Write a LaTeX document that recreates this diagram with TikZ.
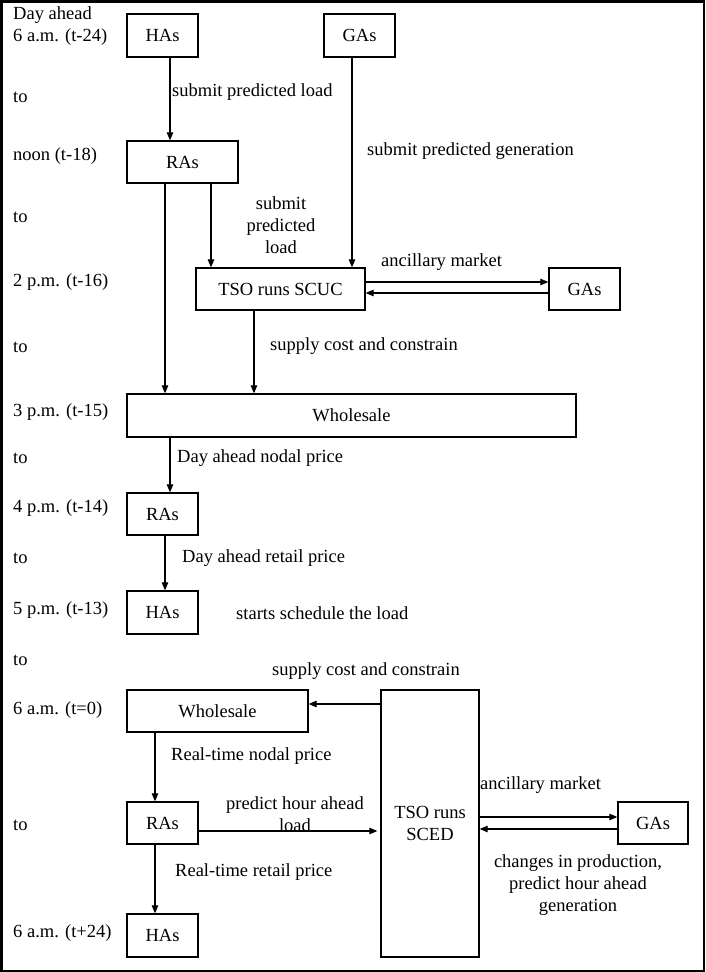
\documentclass[tikz,border=0pt]{standalone}
\usepackage{fontspec}
\setmainfont{Liberation Serif}
\usetikzlibrary{arrows.meta,calc}
\begin{document}
\begin{tikzpicture}[x=1pt,y=-1pt,
  box/.style={draw,line width=1.3pt,inner sep=0pt,align=center},
  lbl/.style={inner sep=0pt,anchor=west},
  clbl/.style={inner sep=0pt,align=center},
  arr/.style={line width=1.1pt,-{Triangle[length=8pt,width=6.5pt]}},
  every node/.style={font=\fontsize{18.5}{22}\selectfont}]
\useasboundingbox (0,0) rectangle (705,972);
\draw[line width=2.5pt] (1.25,1.25) rectangle (703.75,970.75);
% time labels
\node[lbl] (t1a) at (13,15) {Day ahead};
\node[lbl] (t1) at (13,37) {6 a.m. (t-24)};
\node[lbl] (to1) at (13,97) {to};
\node[lbl] (t2) at (13,156) {noon (t-18)};
\node[lbl] (to2) at (13,217) {to};
\node[lbl] (t3) at (13,282) {2 p.m. (t-16)};
\node[lbl] (to3) at (13,347) {to};
\node[lbl] (t4) at (13,412) {3 p.m. (t-15)};
\node[lbl] (to4) at (13,458) {to};
\node[lbl] (t5) at (13,508) {4 p.m. (t-14)};
\node[lbl] (to5) at (13,558) {to};
\node[lbl] (t6) at (13,610) {5 p.m. (t-13)};
\node[lbl] (to6) at (13,660) {to};
\node[lbl] (t7) at (13,710) {6 a.m. (t=0)};
\node[lbl] (to7) at (13,825) {to};
\node[lbl] (t8) at (13,933) {6 a.m. (t+24)};
% boxes
\node[box,minimum width=71pt,minimum height=43pt] (HA1) at (162.5,35.5) {HAs};
\node[box,minimum width=71pt,minimum height=43pt] (GA1) at (359.5,35.5) {GAs};
\node[box,minimum width=111pt,minimum height=42pt] (RA1) at (182.5,162) {RAs};
\node[box,minimum width=169pt,minimum height=42pt] (TSO1) at (280.5,289) {TSO runs SCUC};
\node[box,minimum width=71pt,minimum height=42pt] (GA2) at (584.5,289) {GAs};
\node[box,minimum width=449pt,minimum height=43pt] (W1) at (351.5,415.5) {Wholesale};
\node[box,minimum width=71pt,minimum height=42pt] (RA2) at (162.5,514) {RAs};
\node[box,minimum width=71pt,minimum height=43pt] (HA2) at (162.5,612.5) {HAs};
\node[box,minimum width=181pt,minimum height=42pt] (W2) at (217.5,711) {Wholesale};
\node[box,minimum width=98pt,minimum height=267pt] (TSO2) at (430,823.5) {TSO runs\\SCED};
\node[box,minimum width=71pt,minimum height=42pt] (RA3) at (162.5,823) {RAs};
\node[box,minimum width=70pt,minimum height=42pt] (GA3) at (653,823) {GAs};
\node[box,minimum width=71pt,minimum height=43pt] (HA3) at (162.5,935.5) {HAs};
% connectors
\draw[arr] ([xshift=7.5pt]HA1.south) -- ([xshift=7.5pt]HA1.south |- RA1.north);
\draw[arr] ([xshift=-7.5pt]GA1.south) -- ([xshift=-7.5pt]GA1.south |- TSO1.north);
\draw[arr] ([xshift=-17.5pt]RA1.south) -- ([xshift=-17.5pt]RA1.south |- W1.north);
\draw[arr] ([xshift=28.5pt]RA1.south) -- ([xshift=28.5pt]RA1.south |- TSO1.north);
\draw[arr] ([xshift=-26.5pt]TSO1.south) -- ([xshift=-26.5pt]TSO1.south |- W1.north);
\draw[arr] ([yshift=7pt]TSO1.east) -- ([yshift=7pt]TSO1.east -| GA2.west);
\draw[arr] ([yshift=-4pt]GA2.west) -- ([yshift=-4pt]GA2.west -| TSO1.east);
\draw[arr] ([xshift=7.5pt]RA2.north |- W1.south) -- ([xshift=7.5pt]RA2.north);
\draw[arr] ([xshift=2.5pt]RA2.south) -- ([xshift=2.5pt]RA2.south |- HA2.north);
\draw[arr] ([yshift=7pt]W2.east -| TSO2.west) -- ([yshift=7pt]W2.east);
\draw[arr] ([xshift=-7.5pt]RA3.north |- W2.south) -- ([xshift=-7.5pt]RA3.north);
\draw[arr] ([yshift=-8pt]RA3.east) -- ([xshift=-3pt,yshift=-8pt]RA3.east -| TSO2.west);
\draw[arr] ([yshift=6pt]GA3.west -| TSO2.east) -- ([yshift=6pt]GA3.west);
\draw[arr] ([yshift=-6pt]GA3.west) -- ([yshift=-6pt]GA3.west -| TSO2.east);
\draw[arr] ([xshift=-7.5pt]RA3.south) -- ([xshift=-7.5pt]RA3.south |- HA3.north);
% edge labels
\node[lbl] (l1) at (172,92) {submit predicted load};
\node[lbl] (l2) at (367,151) {submit predicted generation};
\node[clbl] (l3) at (281,225) {submit\\predicted\\load};
\node[lbl] (l4) at (381,262) {ancillary market};
\node[lbl] (l5) at (270,346) {supply cost and constrain};
\node[lbl] (l6) at (177,458) {Day ahead nodal price};
\node[lbl] (l7) at (182,558) {Day ahead retail price};
\node[lbl] (l8) at (236,613) {starts schedule the load};
\node[lbl] (l9) at (272,671) {supply cost and constrain};
\node[lbl] (l10) at (171,756) {Real-time nodal price};
\node[clbl] (l11) at (295,814) {predict hour ahead\\load};
\node[lbl] (l12) at (480,785) {ancillary market};
\node[lbl] (l13) at (175,872) {Real-time retail price};
\node[clbl] (l14) at (578,885) {changes in production,\\predict hour ahead\\generation};
\end{tikzpicture}
\end{document}
